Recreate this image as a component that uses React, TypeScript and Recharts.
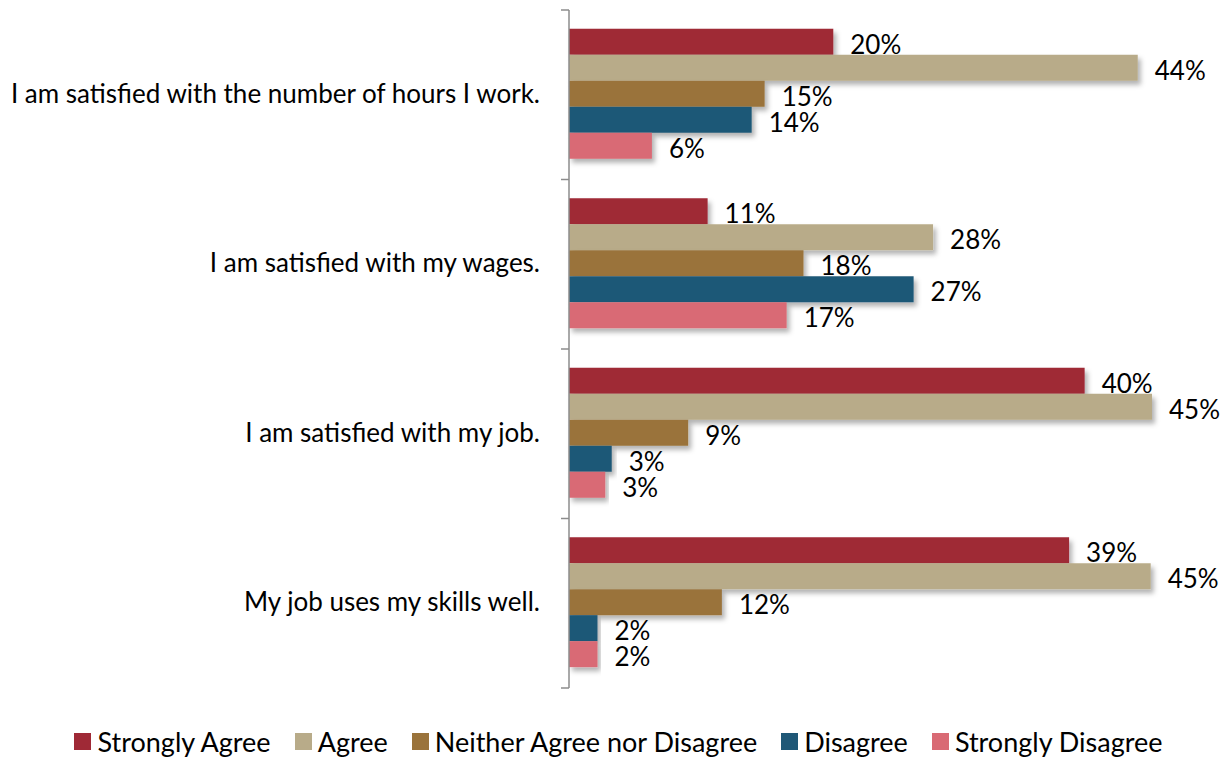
import { Bar, BarChart, LabelList, Legend, XAxis, YAxis } from "recharts";

// survey statements, top to bottom
const statements = [
  "I am satisfied with the number of hours I work.",
  "I am satisfied with my wages.",
  "I am satisfied with my job.",
  "My job uses my skills well.",
];

// percent of respondents (labels are rounded)
const stronglyAgree = [20.4, 10.7, 39.8, 38.6];
const agree = [43.9, 28.1, 45.0, 44.9];
const neither = [15.1, 18.1, 9.2, 11.8];
const disagree = [14.1, 26.6, 3.3, 2.2];
const stronglyDisagree = [6.4, 16.8, 2.8, 2.2];

const seriesNames = [
  "Strongly Agree",
  "Agree",
  "Neither Agree nor Disagree",
  "Disagree",
  "Strongly Disagree",
];
const seriesColors = ["#9f2936", "#b8ab89", "#9a733b", "#1f5877", "#d96a74"];
const seriesValues = [stronglyAgree, agree, neither, disagree, stronglyDisagree];

const rows = statements.map((s, i) => {
  const row: Record<string, string | number> = { statement: s };
  seriesNames.forEach((name, k) => {
    row[name] = seriesValues[k][i];
  });
  return row;
});

const FONT = "Lato, 'Open Sans', sans-serif";
const AXIS_GRAY = "#8c8c8c";

// category label plus Excel-style tick marks on the band edges
const StatementTick = (props: any) => {
  const { x, y, payload, index, visibleTicksCount } = props;
  const half = payload?.offset ?? 0;
  const axisX = x + 29;
  const isLast = index === visibleTicksCount - 1;
  return (
    <g>
      <line x1={axisX - 8} x2={axisX} y1={y - half} y2={y - half} stroke={AXIS_GRAY} strokeWidth={1.5} />
      {isLast && (
        <line x1={axisX - 8} x2={axisX} y1={y + half} y2={y + half} stroke={AXIS_GRAY} strokeWidth={1.5} />
      )}
      <text x={x} y={y} dy={8} textAnchor="end" fill="#000" fontSize={26} fontFamily={FONT}>
        {payload.value}
      </text>
    </g>
  );
};

const renderLegend = (props: any) => {
  const payload = [...(props.payload || [])].sort(
    (a: any, b: any) => seriesNames.indexOf(a.value) - seriesNames.indexOf(b.value)
  );
  return (
    <div
      style={{
        height: 74,
        display: "flex",
        alignItems: "flex-end",
        justifyContent: "center",
        paddingBottom: 4,
        paddingLeft: 30,
        boxSizing: "border-box",
        fontFamily: FONT,
        fontSize: 27,
        color: "#000",
        whiteSpace: "nowrap",
      }}
    >
      {payload.map((p: any) => (
        <span
          key={p.value}
          style={{ display: "inline-flex", alignItems: "center", marginRight: 24 }}
        >
          <span
            style={{
              width: 17,
              height: 17,
              background: p.color,
              display: "inline-block",
              marginRight: 6,
            }}
          />
          {p.value}
        </span>
      ))}
    </div>
  );
};

export default function App() {
  return (
    <div style={{ position: "absolute", left: 0, top: 0, background: "#fff" }}>
      <BarChart
        width={1231}
        height={762}
        data={rows}
        layout="vertical"
        margin={{ top: 10, right: 79, bottom: 0, left: 0 }}
        barCategoryGap="11%"
        barGap={0}
      >
        <defs>
          <filter id="barShadow" x="-5%" y="-20%" width="115%" height="160%">
            <feDropShadow dx="3" dy="4" stdDeviation="2.5" floodColor="#000" floodOpacity="0.3" />
          </filter>
        </defs>
        <XAxis type="number" domain={[0, 45]} hide />
        <YAxis
          type="category"
          dataKey="statement"
          width={569}
          axisLine={{ stroke: AXIS_GRAY, strokeWidth: 1.5 }}
          tickLine={false}
          tickSize={6}
          tickMargin={23}
          tick={<StatementTick />}
          interval={0}
        />
        <Legend
          verticalAlign="bottom"
          content={renderLegend}
          wrapperStyle={{ left: 0, width: 1231 }}
        />
        {seriesNames.map((name, k) => (
          <Bar
            key={name}
            dataKey={name}
            fill={seriesColors[k]}
            filter="url(#barShadow)"
            isAnimationActive={false}
          >
            <LabelList
              dataKey={name}
              position="right"
              offset={17}
              formatter={(v: any) => `${Math.round(Number(v))}%`}
              style={{ fill: "#000", fontSize: 26, fontFamily: FONT }}
              dy={3}
            />
          </Bar>
        ))}
      </BarChart>
    </div>
  );
}
